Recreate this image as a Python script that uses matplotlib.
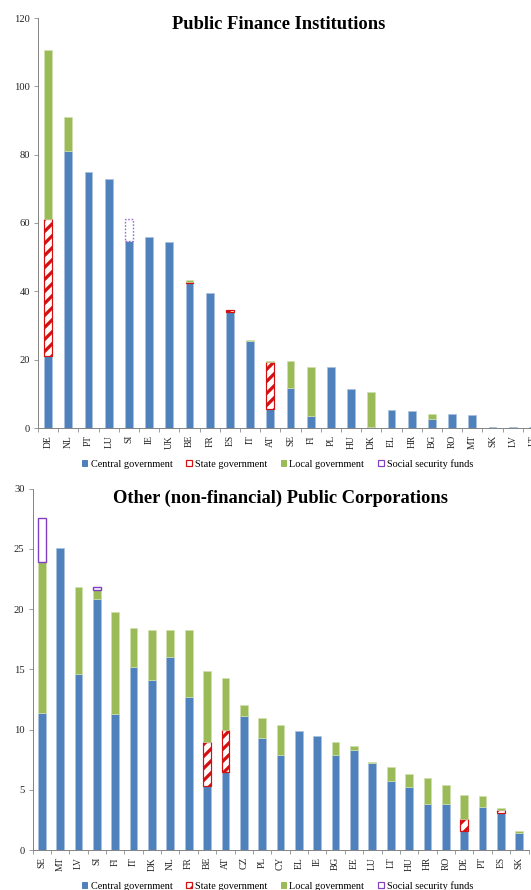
import matplotlib
matplotlib.use('Agg')
import matplotlib.pyplot as plt
import numpy as np
from matplotlib.patches import Patch

plt.rcParams['font.family'] = ['Liberation Serif', 'DejaVu Serif']
plt.rcParams['hatch.linewidth'] = 3.2

# ---------------- data: Public Finance Institutions ----------------
pfi_countries = ['DE', 'NL', 'PT', 'LU', 'SI', 'IE', 'UK', 'BE', 'FR', 'ES', 'IT', 'AT', 'SE',
                 'FI', 'PL', 'HU', 'DK', 'EL', 'HR', 'BG', 'RO', 'MT', 'SK', 'LV', 'LT']
pfi_central = [21.0, 81.0, 74.8, 72.9, 54.8, 56.0, 54.4, 42.4, 39.5, 34.0, 25.5, 5.5, 11.6,
               3.5, 17.8, 11.3, 0.3, 5.4, 5.1, 2.6, 4.2, 3.9, 0.4, 0.3, 0.2]
pfi_state = [40.2, 0, 0, 0, 0, 0, 0, 0.4, 0, 0.5, 0, 13.9, 0,
             0, 0, 0, 0, 0, 0, 0, 0, 0, 0, 0, 0]
pfi_local = [49.3, 10.1, 0, 0, 0, 0, 0, 0.4, 0, 0, 0.4, 0.2, 8.0,
             14.3, 0, 0, 10.2, 0, 0, 1.6, 0, 0, 0, 0, 0]
pfi_ssf = [0, 0, 0, 0, 6.4, 0, 0, 0, 0, 0, 0, 0, 0,
           0, 0, 0, 0, 0, 0, 0, 0, 0, 0, 0, 0]
pfi_yticks = [0, 20, 40, 60, 80, 100, 120]

# ---------------- data: Other (non-financial) Public Corporations ----------------
opc_countries = ['SE', 'MT', 'LV', 'SI', 'FI', 'IT', 'DK', 'NL', 'FR', 'BE', 'AT', 'CZ', 'PL', 'CY',
                 'EL', 'IE', 'BG', 'EE', 'LU', 'LT', 'HU', 'HR', 'RO', 'DE', 'PT', 'ES', 'SK']
opc_central = [11.4, 25.1, 14.6, 20.8, 11.3, 15.2, 14.1, 16.0, 12.7, 5.3, 6.5, 11.1, 9.3, 7.9,
               9.9, 9.5, 7.9, 8.3, 7.2, 5.7, 5.2, 3.8, 3.8, 1.6, 3.6, 3.1, 1.4]
opc_state = [0, 0, 0, 0, 0, 0, 0, 0, 0, 3.7, 3.5, 0, 0, 0,
             0, 0, 0, 0, 0, 0, 0, 0, 0, 1.0, 0, 0.2, 0]
opc_local = [12.5, 0, 7.2, 0.8, 8.5, 3.2, 4.2, 2.3, 5.6, 5.9, 4.3, 0.9, 1.7, 2.5,
             0, 0, 1.1, 0.3, 0.1, 1.2, 1.1, 2.2, 1.6, 2.0, 0.9, 0.2, 0.2]
opc_ssf = [3.7, 0, 0, 0.2, 0, 0, 0, 0, 0, 0, 0, 0, 0, 0,
           0, 0, 0, 0, 0, 0, 0, 0, 0, 0, 0, 0, 0]
opc_yticks = [0, 5, 10, 15, 20, 25, 30]

series_labels = ['Central government', 'State government', 'Local government', 'Social security funds']

BLUE = '#4F81BD'
BLUE_EDGE = '#A9C1DF'
GREEN = '#9BBB59'
GREEN_EDGE = '#CFE0AE'
RED = '#D40F0F'
PURPLE = '#8040C0'
GRAY = '#868686'

W, H, DPI = 531, 890, 72
fig = plt.figure(figsize=(W / DPI, H / DPI), dpi=DPI)


def draw(ax, cats, central, state, local, ssf, yticks, width, ssf_ls, ssf_col):
    n = len(cats)
    x = np.arange(n)
    c = np.array(central, float)
    s = np.array(state, float)
    l = np.array(local, float)
    f = np.array(ssf, float)
    m = c > 0
    ax.bar(x[m], c[m], width, color=BLUE, edgecolor=BLUE_EDGE, linewidth=0.7, zorder=2)
    m = s > 0
    ax.bar(x[m], s[m], width, bottom=c[m], color='white', edgecolor=RED, hatch='//',
           linewidth=1.2, zorder=2)
    m = l > 0
    ax.bar(x[m], l[m], width, bottom=(c + s)[m], color=GREEN, edgecolor=GREEN_EDGE,
           linewidth=0.7, zorder=2)
    m = f > 0
    ax.bar(x[m], f[m], width, bottom=(c + s + l)[m], color='white', edgecolor=ssf_col,
           linewidth=1.4, linestyle=ssf_ls, zorder=2)
    ax.set_xlim(-0.5, n - 0.5)
    ax.set_ylim(yticks[0], yticks[-1])
    ax.set_yticks(yticks)
    ax.set_xticks(x)
    ax.set_xticklabels(cats, rotation=90, fontsize=9.5, color='#222222')
    ax.set_xticks(np.arange(n + 1) - 0.5, minor=True)
    ax.tick_params(axis='x', which='major', length=0, pad=7)
    ax.tick_params(axis='x', which='minor', length=4, color=GRAY, width=0.8)
    ax.tick_params(axis='y', which='major', length=4, color=GRAY, width=0.8,
                   labelsize=10.5, pad=4, labelcolor='#222222')
    for sp in ['top', 'right']:
        ax.spines[sp].set_visible(False)
    for sp in ['left', 'bottom']:
        ax.spines[sp].set_color(GRAY)
        ax.spines[sp].set_linewidth(1.0)


# top chart: axes extends past the right edge as in the reference
ax1 = fig.add_axes([38 / W, 1 - 428 / H, 505 / W, 410 / H])
draw(ax1, pfi_countries, pfi_central, pfi_state, pfi_local, pfi_ssf, pfi_yticks, 0.38,
     (0, (1.2, 1.2)), '#9A6FD0')
fig.text(279 / W, 1 - 29 / H, 'Public Finance Institutions', ha='center', va='baseline',
         fontsize=18.5, fontweight='bold')

ax2 = fig.add_axes([32.5 / W, 1 - 850 / H, 496 / W, 361.3 / H])
draw(ax2, opc_countries, opc_central, opc_state, opc_local, opc_ssf, opc_yticks, 0.42, '-',
     PURPLE)
fig.text(280.5 / W, 1 - 503 / H, 'Other (non-financial) Public Corporations', ha='center',
         va='baseline', fontsize=18.5, fontweight='bold')


def legend_handles(hatched):
    return [Patch(facecolor=BLUE, edgecolor=BLUE),
            Patch(facecolor='white', edgecolor=RED, hatch='//' if hatched else None, linewidth=1.2),
            Patch(facecolor=GREEN, edgecolor=GREEN),
            Patch(facecolor='white', edgecolor=PURPLE, linewidth=1.2)]


for yc, hatched in [(464, False), (886, True)]:
    fig.legend(legend_handles(hatched), series_labels, loc='center',
               bbox_to_anchor=(277.5 / W, 1 - yc / H), ncol=4, frameon=False,
               fontsize=10.3, handlelength=0.55, handleheight=0.55, handletextpad=0.3,
               columnspacing=1.32, borderaxespad=0, borderpad=0)

fig.savefig('out.png', dpi=DPI)
